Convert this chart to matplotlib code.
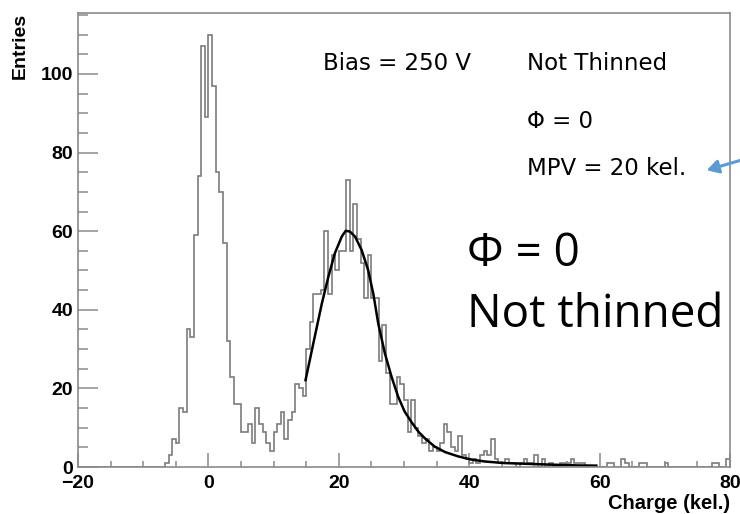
import matplotlib
matplotlib.use("Agg")
import matplotlib.pyplot as plt
import numpy as np

# histogram: 180 bins from -20 to 80 kel., counts start at bin 24
first_bin = 24
counts_main = [1, 3, 7, 6, 15, 14, 35, 33, 59, 74, 107, 89, 110, 97, 75, 70, 57, 32, 23,
               16, 16, 9, 9, 11, 6, 15, 11, 9, 6, 4, 9, 11, 14, 7, 12, 14, 21, 20, 18,
               30, 37, 44, 44, 45, 60, 44, 54, 50, 55, 55, 73, 55, 67, 58, 52, 43, 54, 43, 43,
               27, 36, 24, 16, 16, 23, 21, 17, 9, 17, 10, 8, 6, 7, 4, 5, 4, 6, 11, 9, 5, 4, 8,
               3, 2, 1, 2, 1, 3, 4, 3, 7, 2, 1, 1, 2, 1, 1, 0, 1, 2, 1, 1, 3, 0, 2, 0, 1, 0, 0,
               1, 1, 1, 2, 1, 1, 1]
# sparse entries above 57 kel. (bin index, count)
tail_bins = [146, 147, 150, 151, 155, 156, 162, 175, 176, 179]
tail_counts = [1, 1, 2, 1, 1, 1, 1, 1, 1, 2]

# fitted curve
fit_x = [14.9, 16.1, 17.4, 18.4, 19.4, 20.45, 21.06, 21.7, 22.5, 23.5, 24.5, 25.3, 26.05,
         27.07, 28.1, 29.1, 30.1, 31.2, 32.2, 33.2, 34.7, 36.3, 38.3, 40.3, 42.4, 45.4,
         49.0, 52.6, 56.7, 59.5]
fit_y = [22.1, 31.5, 41.6, 48.4, 54.4, 58.6, 60.1, 59.9, 58.6, 55.2, 50.1, 44.0, 36.5,
         28.9, 22.9, 17.9, 14.1, 11.3, 9.0, 7.3, 5.2, 3.8, 2.7, 1.9, 1.4, 1.0,
         0.8, 0.6, 0.4, 0.35]

n_bins = 180
edges = np.linspace(-20, 80, n_bins + 1)
counts = np.zeros(n_bins)
counts[first_bin:first_bin + len(counts_main)] = counts_main
counts[tail_bins] = tail_counts

W, H = 740, 514
fig = plt.figure(figsize=(W / 100, H / 100), dpi=100)
ax = fig.add_axes([78 / W, 1 - 467 / H, (730 - 78) / W, (467 - 13) / H])

frame_col = "#8a8a8a"
ax.stairs(counts, edges, color="#7c7c7c", lw=1.2)
ax.plot(fit_x, fit_y, color="black", lw=1.8)

ax.set_xlim(-20, 80)
ax.set_ylim(0, 115.5)
for s in ax.spines.values():
    s.set_color(frame_col)
    s.set_linewidth(1.2)

ax.set_xticks([-20, 0, 20, 40, 60, 80])
ax.set_xticks(np.arange(-20, 81, 5), minor=True)
ax.set_yticks([0, 20, 40, 60, 80, 100])
ax.set_yticks(np.arange(0, 116, 5), minor=True)
ax.tick_params(axis="x", which="major", direction="in", length=9.8, width=1.1,
               color=frame_col, pad=5.5)
ax.tick_params(axis="x", which="minor", direction="in", length=4.5, width=1.1,
               color=frame_col)
ax.tick_params(axis="y", which="major", direction="in", length=14.2, width=1.1,
               color=frame_col, pad=3.6)
ax.tick_params(axis="y", which="minor", direction="in", length=7.1, width=1.1,
               color=frame_col)
for lab in ax.get_xticklabels() + ax.get_yticklabels():
    lab.set_fontfamily("Liberation Sans")
    lab.set_fontweight("bold")
    lab.set_fontsize(14)

fig.text(20.5 / W, 1 - 13 / H, "Entries", rotation=90, ha="center", va="top",
         family="Liberation Sans", weight="bold", fontsize=14)
fig.text(730 / W, 1 - 509 / H, "Charge (kel.)", ha="right", va="baseline",
         family="Liberation Sans", weight="bold", fontsize=14.5)

# annotations inside the frame
small = dict(family="DejaVu Sans", fontsize=16.5, va="baseline", ha="left")
fig.text(323 / W, 1 - 70 / H, "Bias = 250 V", **small)
fig.text(527 / W, 1 - 70 / H, "Not Thinned", **small)
fig.text(527 / W, 1 - 128 / H, "Φ = 0", **small)
fig.text(527 / W, 1 - 175 / H, "MPV = 20 kel.", **small)

big = dict(family="Open Sans", fontsize=33, va="baseline", ha="left")
fig.text(467 / W, 1 - 266 / H, "Φ = 0", **big)
fig.text(467 / W, 1 - 327 / H, "Not thinned", **big)

# blue arrow pointing at the MPV label
fig.add_artist(matplotlib.patches.FancyArrowPatch(
    (745 / W, 1 - 159 / H), (704 / W, 1 - 171 / H), transform=fig.transFigure,
    arrowstyle="-|>,head_length=7,head_width=4", color="#5b9bd5", lw=2.2))

fig.savefig("out.png", dpi=100)
